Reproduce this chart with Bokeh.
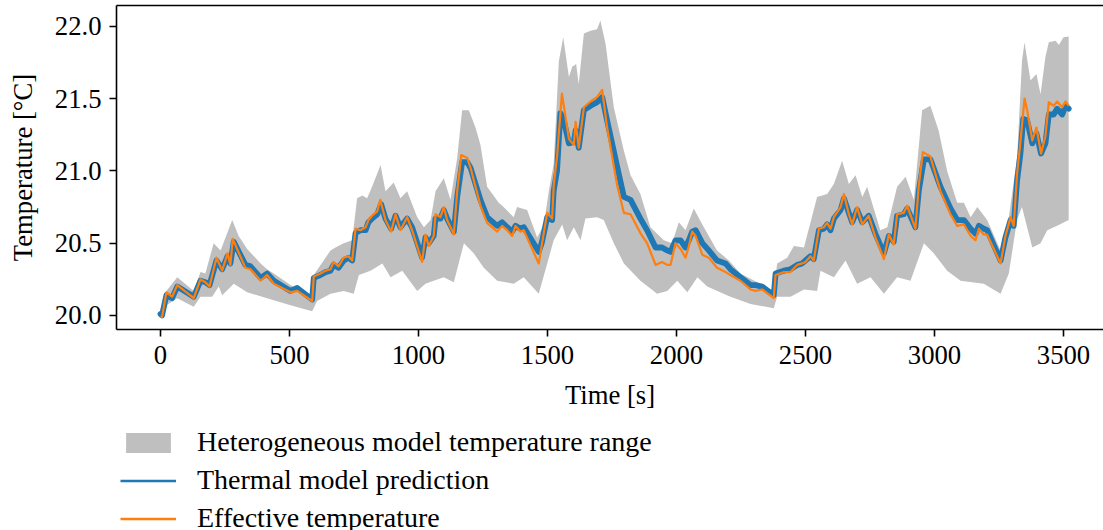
from bokeh.plotting import figure
from bokeh.layouts import column
from bokeh.models import Range1d, FixedTicker, PrintfTickFormatter, Legend, LegendItem, LinearAxis
from bokeh.embed import file_html
from bokeh.resources import INLINE

# ---------------- data ----------------
thermal_t = [0, 6, 23, 45, 65, 129, 155, 174, 190, 217, 239, 260, 271, 284, 329, 349, 388, 413, 439, 504,
             530, 588, 594, 620, 640, 659, 671, 690, 710, 729, 743, 756, 775, 795, 806, 820, 840, 855, 872, 894,
             911, 930, 956, 975, 1014, 1027, 1040, 1059, 1066, 1085, 1098, 1111, 1137, 1150, 1169, 1189, 1202,
             1240, 1266, 1305, 1324, 1344, 1363, 1376, 1395, 1408, 1466, 1479, 1499, 1518, 1524, 1537, 1550,
             1563, 1583, 1602, 1609, 1621, 1641, 1667, 1692, 1712, 1731, 1770, 1796, 1822, 1860, 1886, 1919,
             1944, 1964, 1977, 1996, 2016, 2035, 2048, 2061, 2074, 2100, 2125, 2157, 2190, 2209, 2248, 2287,
             2306, 2332, 2377, 2384, 2416, 2442, 2468, 2487, 2500, 2519, 2532, 2552, 2571, 2584, 2597, 2610,
             2636, 2649, 2668, 2681, 2700, 2720, 2745, 2771, 2804, 2823, 2842, 2855, 2881, 2894, 2926, 2939,
             2959, 2984, 3023, 3062, 3088, 3114, 3140, 3159, 3172, 3191, 3204, 3256, 3275, 3295, 3307, 3320,
             3333, 3344, 3359, 3379, 3395, 3413, 3430, 3443, 3462, 3475, 3495, 3508, 3520]
thermal_T = [20.01, 20.00, 20.14, 20.12, 20.20, 20.13, 20.24, 20.23, 20.21, 20.38, 20.32, 20.41, 20.36, 20.51,
             20.35, 20.34, 20.26, 20.29, 20.24, 20.17, 20.19, 20.11, 20.26, 20.28, 20.30, 20.31, 20.35, 20.33,
             20.38, 20.40, 20.38, 20.57, 20.59, 20.59, 20.645, 20.67, 20.70, 20.77, 20.67, 20.60, 20.69, 20.61,
             20.67, 20.61, 20.40, 20.54, 20.50, 20.55, 20.67, 20.67, 20.73, 20.67, 20.58, 20.82, 21.06, 21.06,
             21.02, 20.80, 20.68, 20.62, 20.645, 20.61, 20.58, 20.62, 20.60, 20.61, 20.44, 20.51, 20.68, 20.66,
             20.86, 21.00, 21.40, 21.35, 21.19, 21.20, 21.28, 21.16, 21.42, 21.45, 21.475, 21.51, 21.35, 21.03,
             20.82, 20.80, 20.67, 20.59, 20.47, 20.47, 20.45, 20.44, 20.52, 20.52, 20.47, 20.52, 20.58, 20.59,
             20.50, 20.45, 20.38, 20.36, 20.32, 20.265, 20.21, 20.21, 20.20, 20.14, 20.29, 20.31, 20.32, 20.35,
             20.36, 20.38, 20.41, 20.39, 20.59, 20.60, 20.63, 20.59, 20.67, 20.73, 20.81, 20.71, 20.645, 20.73,
             20.645, 20.69, 20.565, 20.43, 20.55, 20.51, 20.69, 20.70, 20.74, 20.61, 20.86, 21.08, 21.08, 20.89,
             20.74, 20.66, 20.66, 20.60, 20.565, 20.62, 20.60, 20.59, 20.38, 20.54, 20.66, 20.62, 20.93, 21.12,
             21.36, 21.35, 21.19, 21.26, 21.12, 21.19, 21.39, 21.39, 21.43, 21.39, 21.45, 21.43]

effective_t = [0, 6, 23, 45, 65, 129, 155, 174, 190, 217, 239, 260, 271, 280, 329, 349, 388, 413, 439, 504,
               530, 588, 594, 620, 640, 659, 671, 690, 710, 729, 743, 756, 775, 795, 806, 820, 840, 852, 872, 894,
               911, 930, 956, 975, 1014, 1027, 1040, 1059, 1066, 1085, 1098, 1111, 1137, 1150, 1166, 1189, 1202,
               1240, 1266, 1305, 1324, 1344, 1363, 1376, 1395, 1408, 1466, 1479, 1499, 1518, 1524, 1537, 1556,
               1583, 1602, 1609, 1621, 1641, 1667, 1692, 1712, 1731, 1770, 1796, 1822, 1860, 1886, 1919,
               1944, 1964, 1977, 1996, 2016, 2035, 2048, 2061, 2074, 2100, 2125, 2157, 2190, 2209, 2248, 2287,
               2306, 2332, 2377, 2384, 2416, 2442, 2468, 2487, 2500, 2519, 2532, 2552, 2571, 2584, 2597, 2610,
               2636, 2649, 2668, 2681, 2700, 2720, 2745, 2771, 2804, 2823, 2842, 2855, 2881, 2894, 2926, 2939,
               2955, 2984, 3023, 3062, 3088, 3114, 3140, 3159, 3172, 3191, 3204, 3256, 3275, 3295, 3307, 3320,
               3333, 3349, 3359, 3379, 3395, 3413, 3430, 3443, 3462, 3475, 3495, 3508, 3520]
effective_T = [19.99, 19.99, 20.16, 20.13, 20.21, 20.12, 20.25, 20.23, 20.20, 20.40, 20.31, 20.43, 20.35, 20.53,
               20.33, 20.32, 20.24, 20.28, 20.22, 20.16, 20.17, 20.10, 20.27, 20.29, 20.31, 20.32, 20.37, 20.34,
               20.40, 20.41, 20.38, 20.60, 20.59, 20.61, 20.66, 20.69, 20.72, 20.80, 20.66, 20.58, 20.70, 20.59,
               20.68, 20.59, 20.37, 20.56, 20.48, 20.55, 20.70, 20.68, 20.75, 20.66, 20.56, 20.86, 21.11, 21.09,
               21.02, 20.76, 20.64, 20.58, 20.62, 20.59, 20.55, 20.62, 20.58, 20.59, 20.36, 20.50, 20.71, 20.67,
               20.90, 21.10, 21.535, 21.22, 21.18, 21.34, 21.16, 21.44, 21.48, 21.51, 21.56, 21.30, 20.90,
               20.71, 20.70, 20.57, 20.50, 20.35, 20.37, 20.35, 20.35, 20.50, 20.46, 20.40, 20.48, 20.58, 20.55,
               20.42, 20.40, 20.33, 20.30, 20.28, 20.24, 20.18, 20.17, 20.18, 20.12, 20.28, 20.30, 20.30, 20.35,
               20.36, 20.37, 20.41, 20.38, 20.60, 20.61, 20.64, 20.60, 20.68, 20.75, 20.84, 20.70, 20.63, 20.75,
               20.63, 20.69, 20.54, 20.39, 20.56, 20.49, 20.70, 20.71, 20.76, 20.60, 20.90, 21.13, 21.10, 20.86,
               20.70, 20.62, 20.63, 20.55, 20.52, 20.60, 20.56, 20.56, 20.36, 20.55, 20.68, 20.62, 20.98, 21.20,
               21.50, 21.42, 21.21, 21.30, 21.12, 21.24, 21.475, 21.45, 21.48, 21.44, 21.48, 21.45]

range_upper_t = [0, 19, 65, 129, 155, 174, 206, 233, 278, 303, 336, 388, 413, 439, 504, 588, 594, 659, 678,
                 710, 743, 762, 782, 801, 820, 853, 872, 904, 930, 956, 995, 1021, 1047, 1066, 1098, 1124,
                 1150, 1169, 1195, 1221, 1240, 1266, 1311, 1330, 1369, 1382, 1421, 1460, 1486, 1505, 1524,
                 1544, 1561, 1583, 1596, 1611, 1621, 1641, 1667, 1692, 1705, 1725, 1757, 1796, 1822, 1860,
                 1899, 1951, 1983, 2009, 2035, 2067, 2100, 2157, 2203, 2248, 2313, 2377, 2390, 2429, 2455,
                 2494, 2545, 2584, 2610, 2642, 2668, 2694, 2720, 2739, 2790, 2817, 2855, 2888, 2920, 2952,
                 2984, 3016, 3049, 3088, 3114, 3140, 3166, 3204, 3256, 3288, 3320, 3339, 3349, 3372, 3395,
                 3411, 3430, 3443, 3469, 3482, 3500, 3520]
range_upper_T = [20.04, 20.16, 20.265, 20.17, 20.30, 20.29, 20.50, 20.45, 20.66, 20.55, 20.46, 20.36, 20.32,
                 20.29, 20.21, 20.13, 20.28, 20.45, 20.47, 20.50, 20.52, 20.81, 20.83, 20.81, 20.89, 21.04,
                 20.86, 20.92, 20.81, 20.86, 20.68, 20.61, 20.66, 20.86, 20.95, 20.80, 21.09, 21.42, 21.42,
                 21.30, 21.18, 20.89, 20.78, 20.75, 20.68, 20.75, 20.73, 20.54, 20.63, 20.86, 21.05, 21.76,
                 21.925, 21.65, 21.72, 21.74, 21.60, 21.95, 21.97, 21.98, 22.04, 21.88, 21.44, 21.14, 20.97,
                 20.84, 20.61, 20.52, 20.50, 20.645, 20.59, 20.74, 20.63, 20.45, 20.38, 20.29, 20.23, 20.17,
                 20.36, 20.40, 20.48, 20.47, 20.82, 20.84, 20.91, 21.07, 20.91, 20.97, 20.82, 20.89, 20.59,
                 20.61, 20.89, 20.96, 20.80, 21.42, 21.45, 21.28, 21.00, 20.78, 20.78, 20.68, 20.75, 20.66,
                 20.45, 20.68, 21.09, 21.76, 21.89, 21.625, 21.67, 21.53, 21.79, 21.89, 21.90, 21.87, 21.925,
                 21.93]

range_lower_t = [0, 23, 65, 129, 155, 200, 226, 239, 284, 336, 413, 504, 588, 607, 659, 710, 749, 769, 814,
                 860, 892, 937, 995, 1027, 1059, 1098, 1137, 1176, 1214, 1253, 1305, 1369, 1408, 1466, 1499,
                 1524, 1557, 1576, 1602, 1628, 1647, 1692, 1718, 1757, 1796, 1860, 1925, 1964, 2003, 2042,
                 2081, 2119, 2209, 2287, 2377, 2390, 2442, 2494, 2545, 2558, 2610, 2655, 2700, 2752, 2804,
                 2855, 2907, 2959, 2997, 3049, 3101, 3191, 3256, 3288, 3320, 3339, 3359, 3379, 3411, 3437,
                 3475, 3520]
range_lower_T = [19.99, 20.07, 20.12, 20.06, 20.13, 20.13, 20.20, 20.14, 20.22, 20.16, 20.12, 20.07, 20.03,
                 20.10, 20.15, 20.17, 20.15, 20.28, 20.31, 20.36, 20.265, 20.31, 20.17, 20.22, 20.24, 20.265,
                 20.23, 20.50, 20.43, 20.33, 20.24, 20.22, 20.265, 20.15, 20.36, 20.52, 20.63, 20.52, 20.61,
                 20.52, 20.67, 20.68, 20.66, 20.50, 20.36, 20.24, 20.15, 20.17, 20.24, 20.16, 20.265, 20.20,
                 20.13, 20.08, 20.05, 20.13, 20.13, 20.18, 20.17, 20.31, 20.265, 20.38, 20.22, 20.265, 20.15,
                 20.265, 20.24, 20.50, 20.43, 20.31, 20.24, 20.22, 20.15, 20.29, 20.66, 20.75, 20.61, 20.47,
                 20.50, 20.59, 20.62, 20.66]

x_ticks = [0, 500, 1000, 1500, 2000, 2500, 3000, 3500]
y_ticks = [20.0, 20.5, 21.0, 21.5, 22.0]
labels = ["Heterogeneous model temperature range", "Thermal model prediction", "Effective temperature"]

# ---------------- style ----------------
FONT = "Liberation Serif"
FS = "26.7px"
LEG_FS = "28px"
BLUE = "#1f77b4"
ORANGE = "#ff7f0e"
GRAY = "#bfbfbf"

p = figure(width=1103, height=422, output_backend="svg", toolbar_location=None,
           x_range=Range1d(-170.5, 3655), y_range=Range1d(19.903, 22.144),
           min_border_left=116, min_border_top=5, min_border_right=0, min_border_bottom=93)
p.outline_line_color = None
p.grid.visible = False

band_x = range_upper_t + range_lower_t[::-1]
band_y = range_upper_T + range_lower_T[::-1]
p.patch(band_x, band_y, fill_color=GRAY, line_color=None)
p.line(thermal_t, thermal_T, line_color=BLUE, line_width=5.8, line_join="round", line_cap="round")
p.line(effective_t, effective_T, line_color=ORANGE, line_width=2.2, line_join="round")

for ax in [p.xaxis[0], p.yaxis[0]]:
    ax.axis_line_width = 1.6
    ax.axis_line_color = "black"
    ax.major_tick_line_width = 1.6
    ax.major_tick_out = 7
    ax.major_tick_in = 0
    ax.minor_tick_out = 0
    ax.minor_tick_in = 0
    ax.major_label_text_font = FONT
    ax.major_label_text_font_size = FS
    ax.major_label_text_color = "black"
    ax.axis_label_text_font = FONT
    ax.axis_label_text_font_size = FS
    ax.axis_label_text_font_style = "normal"
    ax.axis_label_text_color = "black"

p.xaxis.ticker = FixedTicker(ticks=x_ticks)
p.xaxis.axis_label = "Time [s]"
p.xaxis.major_label_standoff = 9
p.xaxis.axis_label_standoff = 13

p.yaxis.ticker = FixedTicker(ticks=y_ticks)
p.yaxis.formatter = PrintfTickFormatter(format="%.1f")
p.yaxis.axis_label = "Temperature [°C]"
p.yaxis.major_label_standoff = 8
p.yaxis.axis_label_standoff = 14

top_axis = LinearAxis(ticker=FixedTicker(ticks=[]), axis_line_width=1.6, axis_line_color="black",
                      major_tick_out=0, minor_tick_out=0, major_label_text_font_size="0px")
p.add_layout(top_axis, "above")

# ---------------- legend, in its own strip below the plot ----------------
# The proxy renderers carry the real series, but this strip's ranges lie far from them,
# so only their legend swatches are visible.
q = figure(width=1103, height=108, output_backend="svg", toolbar_location=None,
           x_range=Range1d(0, 1), y_range=Range1d(0, 1),
           min_border_left=0, min_border_right=0, min_border_top=0, min_border_bottom=0)
q.axis.visible = False
q.grid.visible = False
q.outline_line_color = None
lg_band = q.patch(band_x, band_y, fill_color=GRAY, line_color=None)
lg_blue = q.line(thermal_t, thermal_T, line_color=BLUE, line_width=2.5)
lg_orange = q.line(effective_t, effective_T, line_color=ORANGE, line_width=2.5)

legend = Legend(items=[LegendItem(label=labels[0], renderers=[lg_band]),
                       LegendItem(label=labels[1], renderers=[lg_blue]),
                       LegendItem(label=labels[2], renderers=[lg_orange])],
                location="top_left", orientation="vertical",
                glyph_width=56, glyph_height=25, label_standoff=21, spacing=6, label_height=31,
                padding=0, margin=4, border_line_color=None, background_fill_alpha=0,
                label_text_font=FONT, label_text_font_size=LEG_FS, label_text_color="black")
q.add_layout(legend, "center")

layout = column(p, q, spacing=0)
open("out.html", "w").write(file_html(layout, INLINE))
